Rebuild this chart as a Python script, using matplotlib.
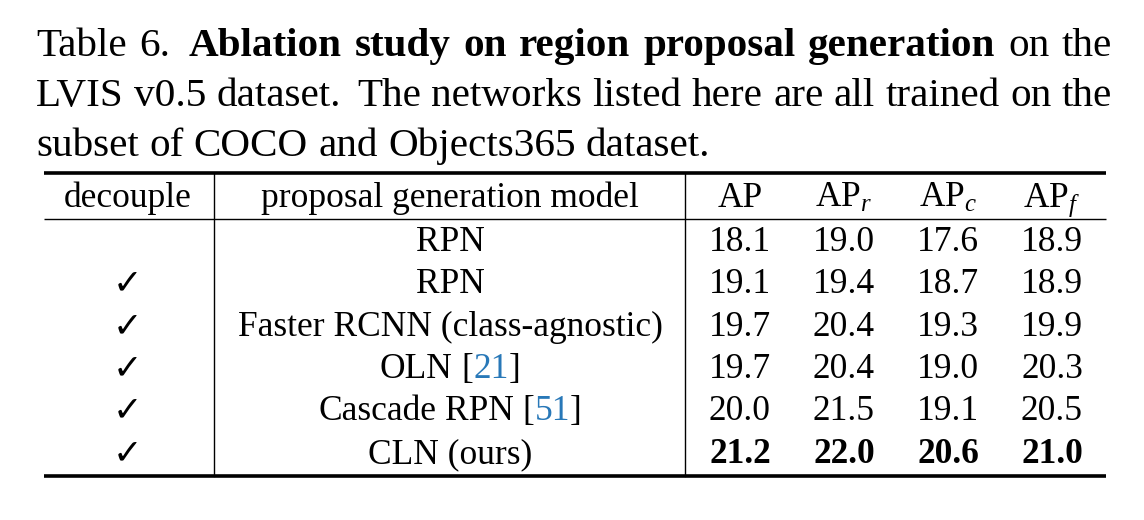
import matplotlib
matplotlib.use('Agg')
import matplotlib.pyplot as plt

plt.rcParams['font.family'] = ['Liberation Serif', 'DejaVu Sans']
plt.rcParams['mathtext.fontset'] = 'custom'
plt.rcParams['mathtext.rm'] = 'Liberation Serif'
plt.rcParams['mathtext.it'] = 'Liberation Serif:italic'

# caption: lines of (text, weight) runs
caption_lines = [
    [('Table 6.', 'normal'), ('Ablation study on region proposal generation', 'bold'), ('on the', 'normal')],
    [('LVIS v0.5 dataset. The networks listed here are all trained on the', 'normal')],
    [('subset of COCO and Objects365 dataset.', 'normal')],
]
caption_justify = [True, True, False]

headers = ['decouple', 'proposal generation model', 'AP', 'AP$_r$', 'AP$_c$', 'AP$_f$']
decouple = [False, True, True, True, True, True]
models = ['RPN', 'RPN', 'Faster RCNN (class-agnostic)', 'OLN', 'Cascade RPN', 'CLN (ours)']
refs = [None, None, None, '21', '51', None]
ap = [18.1, 19.1, 19.7, 19.7, 20.0, 21.2]
ap_r = [19.0, 19.4, 20.4, 20.4, 21.5, 22.0]
ap_c = [17.6, 18.7, 19.3, 19.0, 19.1, 20.6]
ap_f = [18.9, 18.9, 19.9, 20.3, 20.5, 21.0]
best_row = 5

link_color = '#2878b8'

fig = plt.figure(figsize=(11.44, 5.2), dpi=100)
ax = fig.add_axes([0, 0, 1, 1])
ax.set_xlim(0, 1144)
ax.set_ylim(520, 0)
ax.axis('off')
renderer = fig.canvas.get_renderer()


def width(s, size, weight='normal'):
    t = ax.text(0, 0, s, fontsize=size, fontweight=weight)
    w = t.get_window_extent(renderer).width
    t.remove()
    return w


def draw_tokens(tokens, x, y, size, align='left', total=None):
    # tokens: (text, weight, color, space_before); a space after a full stop is wider
    sp = width('a a', size) - width('aa', size)
    ws = [width(t[0], size, t[1]) for t in tokens]
    units = [0.0] + [(1.5 if tokens[i - 1][0].endswith('.') else 1.0) if tokens[i][3] else 0.0
                     for i in range(1, len(tokens))]
    gap = sp
    if total is not None and sum(units):
        gap = (total - sum(ws)) / sum(units)
    line_w = sum(ws) + gap * sum(units)
    if align == 'center':
        x = x - line_w / 2
    cx = x
    for tok, w, u in zip(tokens, ws, units):
        cx += gap * u
        ax.text(cx, y, tok[0], fontsize=size, fontweight=tok[1], color=tok[2],
                ha='left', va='baseline')
        cx += w


# caption
cap_size = 29.6
cap_base = [56, 106, 156]
for line, just, yb in zip(caption_lines, caption_justify, cap_base):
    toks = []
    for text, weight in line:
        for w in text.split():
            toks.append((w, weight, 'black', True))
    draw_tokens(toks, 36, yb, cap_size, total=(1112 - 36) if just else None)

# table
tsize = 25.5
x_left, x_right = 44, 1106
top_rule, mid_rule, bot_rule = 173, 219, 476
ax.plot([x_left, x_right], [top_rule, top_rule], color='black', lw=2.6, solid_capstyle='butt')
ax.plot([x_left, x_right], [mid_rule, mid_rule], color='black', lw=1.0, solid_capstyle='butt')
ax.plot([x_left, x_right], [bot_rule, bot_rule], color='black', lw=2.6, solid_capstyle='butt')
for xv in [214, 685]:
    ax.plot([xv, xv], [top_rule, bot_rule], color='black', lw=1.0)

col_x = [128, 450, 740, 844, 948, 1052]
header_base = 207
row_base = [251, 293, 336, 378, 420, 463]

for cx, h in zip(col_x, headers):
    ax.text(cx, header_base, h, fontsize=tsize, ha='center', va='baseline')

for i in range(len(models)):
    yb = row_base[i]
    if decouple[i]:
        ax.text(col_x[0], yb, '\u2713', fontsize=tsize, ha='center', va='baseline',
                family=['DejaVu Sans'])
    if refs[i] is None:
        ax.text(col_x[1], yb, models[i], fontsize=tsize, ha='center', va='baseline')
    else:
        toks = [(w, 'normal', 'black', True) for w in models[i].split()]
        toks += [('[', 'normal', 'black', True), (refs[i], 'normal', link_color, False),
                 (']', 'normal', 'black', False)]
        draw_tokens(toks, col_x[1], yb, tsize, align='center')
    wt = 'bold' if i == best_row else 'normal'
    for cx, vals in zip(col_x[2:], [ap, ap_r, ap_c, ap_f]):
        ax.text(cx, yb, '%.1f' % vals[i], fontsize=tsize, fontweight=wt,
                ha='center', va='baseline')

fig.savefig('out.png', dpi=100)
